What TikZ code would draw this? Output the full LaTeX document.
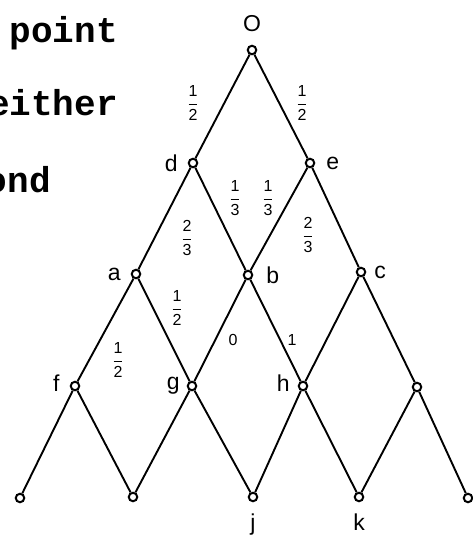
\documentclass[tikz,border=0pt]{standalone}
\usepackage{fontspec}
\usepackage{amsmath}
\setmainfont{Liberation Sans}
\newfontfamily\typefont{Liberation Mono}
\usetikzlibrary{positioning}
\tikzstyle{vertex} = [circle, draw=black, fill=white, line width=2pt, inner sep=0pt, minimum size=8.5pt]
\tikzstyle{edge} = [line width=1.9pt, draw=black]
\tikzstyle{ptname} = [inner sep=0pt, font=\fontsize{23}{26}\selectfont]
\tikzstyle{prob} = [inner sep=0pt, font=\fontsize{16}{18}\selectfont]
\tikzstyle{pagetext} = [inner sep=0pt, anchor=base east, font=\typefont\bfseries\fontsize{36}{40}\selectfont]
\newcommand{\frc}[2]{$\dfrac{\text{#1}\rule[-2pt]{0pt}{2pt}}{\rule{0pt}{14pt}\text{#2}}$}

\begin{document}
\begin{tikzpicture}[x=1pt, y=-1pt]
\useasboundingbox (0,0) rectangle (472,535);

% text cut from the page
\node (txtpoint) [pagetext] at (118,43) {point};
\node (txteither) [pagetext] at (118,115) {either};
\node (txtond) [pagetext] at (51,192) {ond};

% lattice points
\node (O) [vertex] at (252,50) {};
\node (d) [vertex] at (193,163) {};
\node (e) [vertex] at (310,163) {};
\node (a) [vertex] at (136,274) {};
\node (b) [vertex] at (248,275) {};
\node (c) [vertex] at (361,272) {};
\node (f) [vertex] at (75,386) {};
\node (g) [vertex] at (192,386) {};
\node (h) [vertex] at (303,386) {};
\node (r4) [vertex] at (417,387) {};
\node (s1) [vertex] at (20,498) {};
\node (s2) [vertex] at (133,497) {};
\node (j) [vertex] at (253,497) {};
\node (k) [vertex] at (359,497) {};
\node (s5) [vertex] at (468,498) {};

% names
\node (Oname) [ptname, above=13pt of O] {O};
\node (dname) [ptname, left=10pt of d] {d};
\node (ename) [ptname, right=11pt of e] {e};
\node (aname) [ptname, left=10pt of a] {a};
\node (bname) [ptname, right=13pt of b] {b};
\node (cname) [ptname, right=8pt of c] {c};
\node (fname) [ptname, left=10pt of f, yshift=3pt] {f};
\node (gname) [ptname, left=7pt of g] {g};
\node (hname) [ptname, left=8pt of h, yshift=3pt] {h};
\node (jname) [ptname, below=11pt of j] {j};
\node (kname) [ptname, below=11pt of k] {k};

% edges
\draw [edge] (O) -- (d);
\draw [edge] (O) -- (e);
\draw [edge] (d) -- (a);
\draw [edge] (d) -- (b);
\draw [edge] (e) -- (b);
\draw [edge] (e) -- (c);
\draw [edge] (a) -- (f);
\draw [edge] (a) -- (g);
\draw [edge] (b) -- (g);
\draw [edge] (b) -- (h);
\draw [edge] (c) -- (h);
\draw [edge] (c) -- (r4);
\draw [edge] (f) -- (s1);
\draw [edge] (f) -- (s2);
\draw [edge] (g) -- (s2);
\draw [edge] (g) -- (j);
\draw [edge] (h) -- (j);
\draw [edge] (h) -- (k);
\draw [edge] (r4) -- (k);
\draw [edge] (r4) -- (s5);

% probabilities
\node (pOd) [prob] at (193,103) {\frc{1}{2}};
\node (pOe) [prob] at (302,103) {\frc{1}{2}};
\node (pdb) [prob] at (235,198) {\frc{1}{3}};
\node (peb) [prob] at (268,198) {\frc{1}{3}};
\node (pda) [prob] at (187,238) {\frc{2}{3}};
\node (pec) [prob] at (308,235) {\frc{2}{3}};
\node (pag) [prob] at (177,308) {\frc{1}{2}};
\node (paf) [prob] at (118,360) {\frc{1}{2}};
\node (pbg) [prob] at (233,340) {0};
\node (pbh) [prob] at (292,340) {1};

\end{tikzpicture}
\end{document}
